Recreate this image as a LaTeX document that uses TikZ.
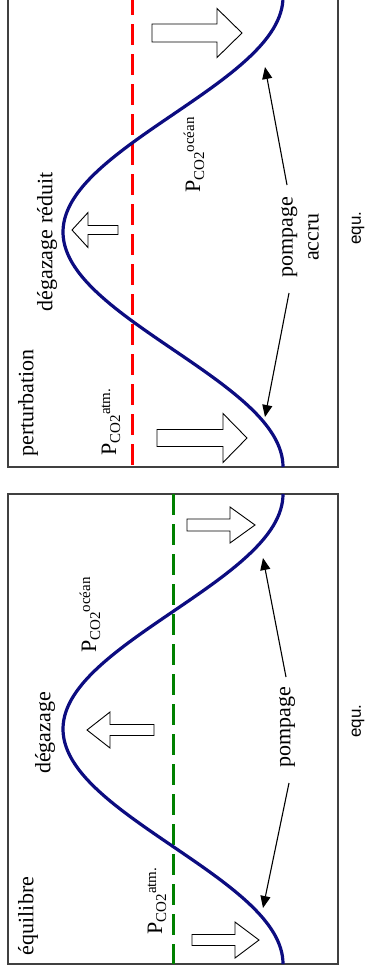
\documentclass[tikz,border=0pt]{standalone}
\usepackage{fontspec}
\setmainfont{Liberation Serif}
\newfontfamily\labelsans{Liberation Sans}
\usetikzlibrary{arrows.meta}
\definecolor{curveblue}{RGB}{12,12,128}
\definecolor{eqgreen}{RGB}{0,128,0}
\definecolor{pertred}{RGB}{255,0,0}
% partial pressure label: P with CO2 index and a raised qualifier
\newcommand\pco[1]{P\raisebox{-4pt}{\fontsize{15}{15}\selectfont CO2}\raisebox{6pt}{\fontsize{15}{15}\selectfont #1}}
% hollow block arrow: tail x, axis y, head base x, shaft half width, head half width, tip x
\newcommand\blockarrow[6]{\draw[hollow] (#1,#2-#4) -- (#3,#2-#4) -- (#3,#2-#5) -- (#6,#2) -- (#3,#2+#5) -- (#3,#2+#4) -- (#1,#2+#4) -- cycle;}
\begin{document}
\begin{tikzpicture}[x=1pt,y=-1pt,
  frame/.style={draw=gray!50!black, line width=1.4pt},
  curve/.style={curveblue, line width=3.2pt},
  level/.style={line width=3pt, dash pattern=on 21pt off 9pt},
  lbl/.style={rotate=90, inner sep=0pt, font=\fontsize{22}{26}\selectfont},
  eqlbl/.style={rotate=90, inner sep=0pt, font=\labelsans\fontsize{17}{20}\selectfont},
  hollow/.style={draw=black, fill=white, line width=0.9pt, line join=miter},
  thin/.style={-{Triangle[length=12pt,width=10pt]}, line width=1.1pt}
]
\useasboundingbox (0,0) rectangle (365,970);

% ---------- perturbation panel ----------
\draw[frame] (8,-3) rectangle (338,467);
\draw[level, pertred, dash phase=3pt] (132,-3) -- (132,467);
\draw[curve] plot[domain=-3:467, samples=120, smooth] ({173-110*cos(0.765957*(\x-232))}, \x);
\blockarrow{152}{33}{217}{9}{24.5}{242}
\blockarrow{157}{438}{223}{8.5}{24.5}{247}
\blockarrow{118}{230}{88}{4.5}{17.5}{72}
\node[lbl] (pert) at (28,403) {perturbation};
\node[lbl] (degred) at (47,242) {dégazage réduit};
\node[lbl] (patmP) at (111,422) {\pco{atm.}};
\node[lbl] (poceP) at (194,155) {\pco{océan}};
\node[lbl, align=center] (pompP) at (300,237) {pompage\\accru};
\node[eqlbl] (equP) at (358,228) {equ.};
\coordinate (pPa) at (287,185);
\coordinate (pPat) at (265,67);
\coordinate (pPb) at (289,293);
\coordinate (pPbt) at (265,417);
\draw[thin] (pPa) -- (pPat);
\draw[thin] (pPb) -- (pPbt);

% ---------- equilibrium panel ----------
\draw[frame] (8,494) rectangle (338,964);
\draw[level, eqgreen] (173,494) -- (173,964);
\draw[curve] plot[domain=494:964, samples=120, smooth] ({173-110*cos(0.765957*(\x-729))}, \x);
\blockarrow{187}{525}{230}{6}{18}{255}
\blockarrow{192}{940}{235}{5.5}{18}{259}
\blockarrow{154}{730}{110}{5.5}{18}{87}
\node[lbl] (equi) at (28,916) {équilibre};
\node[lbl] (deg) at (45,733) {dégazage};
\node[lbl] (patmE) at (157,901) {\pco{atm.}};
\node[lbl] (poceE) at (90,615) {\pco{océan}};
\node[lbl] (pompE) at (287,727) {pompage};
\node[eqlbl] (equE) at (358,721) {equ.};
\coordinate (pEa) at (286,677);
\coordinate (pEat) at (263,558);
\coordinate (pEb) at (289,783);
\coordinate (pEbt) at (263,908);
\draw[thin] (pEa) -- (pEat);
\draw[thin] (pEb) -- (pEbt);
\end{tikzpicture}
\end{document}
